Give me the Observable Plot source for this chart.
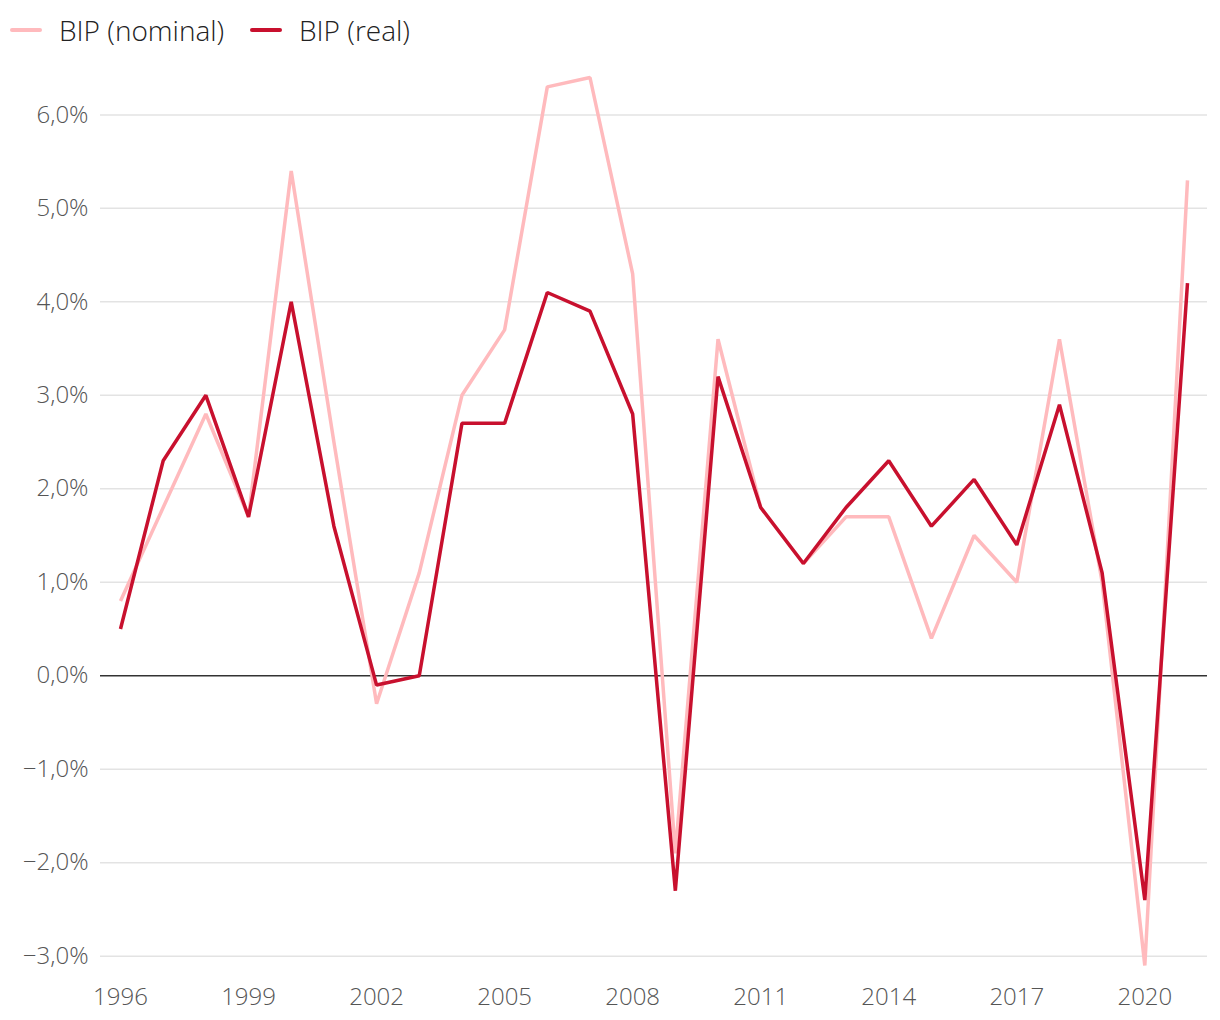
<!DOCTYPE html>
<html>
<head>
<meta charset="utf-8">
<script src="https://cdn.jsdelivr.net/npm/d3@7"></script>
<script src="https://cdn.jsdelivr.net/npm/@observablehq/plot@0.6"></script>
<style>
  html, body { margin: 0; padding: 0; background: #fff; }
  body { width: 1220px; height: 1020px; font-family: "Open Sans", sans-serif; }
  #legend { height: 60px; position: relative; color: #222; font-size: 28px; font-weight: 300; }
  .item { position: absolute; top: 11px; display: flex; align-items: center; }
  .sw { width: 32px; height: 4px; border-radius: 2px; margin-right: 17px; }
  #chart svg { display: block; }
</style>
</head>
<body>
<div id="legend"></div>
<div id="chart"></div>
<script>
const years = [1996,1997,1998,1999,2000,2001,2002,2003,2004,2005,2006,2007,2008,2009,2010,2011,2012,2013,2014,2015,2016,2017,2018,2019,2020,2021];
const nominal = [0.8,1.8,2.8,1.7,5.4,2.5,-0.3,1.1,3.0,3.7,6.3,6.4,4.3,-1.9,3.6,1.8,1.2,1.7,1.7,0.4,1.5,1.0,3.6,1.0,-3.1,5.3];
const real = [0.5,2.3,3.0,1.7,4.0,1.6,-0.1,0.0,2.7,2.7,4.1,3.9,2.8,-2.3,3.2,1.8,1.2,1.8,2.3,1.6,2.1,1.4,2.9,1.1,-2.4,4.2];
const seriesNames = ["BIP (nominal)", "BIP (real)"];
const seriesColors = ["#ffbabd", "#c8102e"];
const xTicks = [1996,1999,2002,2005,2008,2011,2014,2017,2020];
const yTicks = [-3,-2,-1,0,1,2,3,4,5,6];

const data = [];
years.forEach((y, i) => {
  data.push({year: y, value: nominal[i], series: seriesNames[0]});
  data.push({year: y, value: real[i], series: seriesNames[1]});
});

const legend = document.getElementById("legend");
const lefts = [10, 250];
seriesNames.forEach((n, i) => {
  const it = document.createElement("div");
  it.className = "item";
  it.style.left = lefts[i] + "px";
  it.innerHTML = `<span class="sw" style="background:${seriesColors[i]}"></span><span>${n}</span>`;
  legend.appendChild(it);
});

const fmt = d => (d < 0 ? "\u2212" : "") + Math.abs(d).toFixed(1).replace(".", ",") + "%";

const chart = Plot.plot({
  width: 1220,
  height: 960,
  marginLeft: 100,
  marginRight: 13,
  marginTop: 17,
  marginBottom: 55,
  style: {fontFamily: "'Open Sans', sans-serif", fontSize: "24px", fontWeight: 300, color: "#555", background: "#fff"},
  x: {domain: [1996, 2021], insetLeft: 20, insetRight: 20, label: null},
  y: {domain: [-3.1, 6.4], label: null},
  color: {domain: seriesNames, range: seriesColors},
  marks: [
    Plot.ruleY(yTicks.filter(d => d !== 0), {stroke: "#e3e3e3", strokeWidth: 1.5}),
    Plot.axisY(yTicks, {tickSize: 0, tickPadding: 12, tickFormat: fmt, fill: "#555", fontSize: 24, fontWeight: 300}),
    Plot.axisX(xTicks, {tickSize: 0, tickPadding: 22, tickFormat: d => String(d), fill: "#555", fontSize: 24, fontWeight: 300}),
    Plot.ruleY([0], {stroke: "#333", strokeWidth: 1.5}),
    Plot.line(data, {x: "year", y: "value", stroke: "series", z: "series", strokeWidth: 3.5, strokeLinejoin: "miter", strokeLinecap: "butt"})
  ]
});
document.getElementById("chart").appendChild(chart);
</script>
</body>
</html>
